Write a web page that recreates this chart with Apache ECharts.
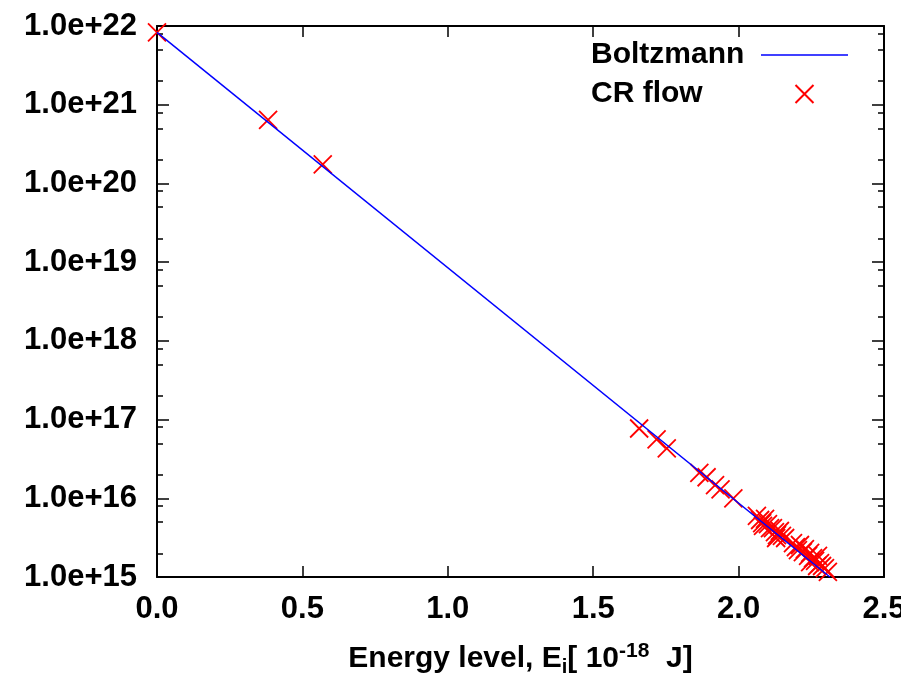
<!DOCTYPE html>
<html>
<head>
<meta charset="UTF-8">
<title>Boltzmann plot</title>
<script src="https://cdn.jsdelivr.net/npm/echarts@6/dist/echarts.min.js"></script>
</head>
<body style="margin:0;background:#fff;">
<div id="container" style="width:901px;height:674px;"></div>
<script>
// CR flow populations
var energy = [0, 0.382, 0.570, 1.658, 1.718, 1.753, 1.865, 1.890, 1.919, 1.938, 1.982,
  2.063, 2.074, 2.081, 2.091, 2.084, 2.101, 2.108, 2.118, 2.125, 2.132, 2.142, 2.149, 2.160, 2.129,
  2.187, 2.197, 2.204, 2.211, 2.221, 2.228, 2.239, 2.246, 2.256, 2.263, 2.273, 2.280, 2.287, 2.297, 2.307, 2.270, 2.246];
var density = [8.3e21, 6.4e20, 1.75e20, 7.7e16, 5.6e16, 4.3e16, 2.1e16, 1.85e16, 1.47e16, 1.3e16, 1.0e16,
  5.96e15, 5.3e15, 4.85e15, 5.46e15, 4.45e15, 4.71e15, 4.19e15, 4.19e15, 3.72e15, 3.41e15, 3.84e15, 3.32e15, 3.13e15, 3.13e15,
  2.7e15, 2.4e15, 2.2e15, 2.55e15, 2.07e15, 2.26e15, 1.85e15, 2.02e15, 1.74e15, 1.6e15, 1.85e15, 1.5e15, 1.38e15, 1.3e15, 1.16e15, 1.38e15, 1.55e15];
// Boltzmann line end points
var boltzE = [0, 2.314];
var boltzN = [8.3e21, 1.0e15];

var xTicks = [0, 0.5, 1.0, 1.5, 2.0, 2.5];
var yMajorTicks = [1e15, 1e16, 1e17, 1e18, 1e19, 1e20, 1e21, 1e22];
var yMinorMantissa = [2, 5, 8];

var yMinorTicks = [];
for (var e = 15; e < 22; e++) {
  for (var k = 0; k < yMinorMantissa.length; k++) {
    yMinorTicks.push(yMinorMantissa[k] * Math.pow(10, e));
  }
}

var font = '"Liberation Sans", Arial, Helvetica, sans-serif';
var crossPath = 'path://M0,0L20,20M20,0L0,20';

function pairs(xs, ys) {
  var out = [];
  for (var i = 0; i < xs.length; i++) out.push([xs[i], ys[i]]);
  return out;
}

function yAxis(pos, major, labels) {
  return {
    type: 'log', logBase: 10, min: 1e15, max: 1e22, position: pos,
    axisLine: { show: major, onZero: false, lineStyle: { color: '#000', width: 2 } },
    axisTick: {
      inside: true, length: major ? 12 : 6,
      customValues: major ? yMajorTicks : yMinorTicks,
      lineStyle: { color: '#000', width: 1.5 }
    },
    axisLabel: {
      show: labels, customValues: yMajorTicks, margin: 20,
      color: '#000', fontSize: 31, fontWeight: 'bold', fontFamily: font,
      formatter: function (v) { return '1.0e+' + Math.round(Math.log10(v)); }
    },
    splitLine: { show: false }
  };
}

function xAxis(pos, labels) {
  return {
    type: 'value', min: 0, max: 2.5, interval: 0.5, position: pos,
    name: labels ? '{t|Energy level, E}{sub|i}{t|[ 10}{sup|-18}{t|  J]}' : '',
    nameLocation: 'middle', nameGap: 64,
    nameTextStyle: {
      rich: {
        t: { fontSize: 30, fontWeight: 'bold', fontFamily: font, color: '#000', lineHeight: 36 },
        sub: { fontSize: 20, fontWeight: 'bold', fontFamily: font, color: '#000', lineHeight: 18, verticalAlign: 'bottom' },
        sup: { fontSize: 21, fontWeight: 'bold', fontFamily: font, color: '#000', lineHeight: 18, verticalAlign: 'top' }
      }
    },
    axisLine: { onZero: false, lineStyle: { color: '#000', width: 2 } },
    axisTick: { inside: true, length: 11, customValues: xTicks, lineStyle: { color: '#000', width: 1.5 } },
    axisLabel: {
      show: labels, margin: 17, color: '#000', fontSize: 31, fontWeight: 'bold', fontFamily: font,
      formatter: function (v) { return v.toFixed(1); }
    },
    splitLine: { show: false }
  };
}

var chart = echarts.init(document.getElementById('container'));
chart.setOption({
  animation: false,
  backgroundColor: '#fff',
  grid: { left: 157, right: 17, top: 26, bottom: 97, containLabel: false, outerBoundsMode: 'none' },
  legend: {
    orient: 'vertical', left: 586, top: 35, align: 'right',
    itemWidth: 87, itemHeight: 18, itemGap: 9,
    data: [
      { name: 'Boltzmann', itemStyle: { opacity: 0 }, lineStyle: { color: '#0000ff', width: 1.5, opacity: 1 } },
      { name: 'CR flow' }
    ],
    formatter: function (name) { return '{n|' + name + '}'; },
    textStyle: {
      rich: { n: { width: 165, align: 'left', fontSize: 30, fontWeight: 'bold', fontFamily: font, color: '#000', lineHeight: 24 } }
    }
  },
  xAxis: [xAxis('bottom', true), xAxis('top', false)],
  yAxis: [yAxis('left', true, true), yAxis('right', true, false), yAxis('left', false, false), yAxis('right', false, false)],
  series: [
    {
      name: 'Boltzmann', type: 'line', data: pairs(boltzE, boltzN),
      showSymbol: false, symbol: 'none', clip: true,
      lineStyle: { color: '#0000ff', width: 1.5 }, itemStyle: { color: '#0000ff' }
    },
    {
      name: 'CR flow', type: 'scatter', data: pairs(energy, density),
      symbol: crossPath, symbolSize: 18,
      itemStyle: { color: 'rgba(0,0,0,0)', borderColor: '#ff0000', borderWidth: 1.8, opacity: 1 }
    }
  ]
});
</script>
</body>
</html>
